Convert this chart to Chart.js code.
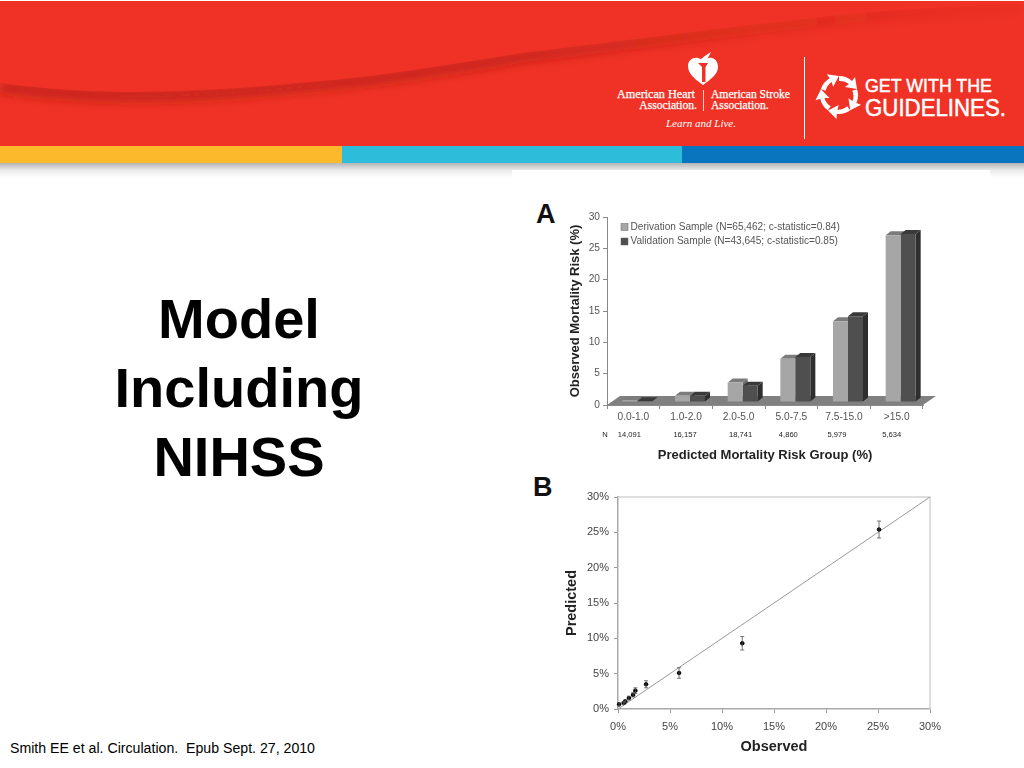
<!DOCTYPE html>
<html>
<head>
<meta charset="utf-8">
<script src="https://cdn.jsdelivr.net/npm/chart.js@4/dist/chart.umd.min.js"></script>
<style>
  html, body { margin: 0; padding: 0; background: #fff; }
  body { width: 1024px; height: 768px; position: relative; overflow: hidden; font-family: "Liberation Sans", Arial, sans-serif; }
  #banner { position: absolute; left: 0; top: 0; }
  .abs { position: absolute; }
  #panel { left: 512px; top: 170px; width: 478px; height: 598px; background: #fff; }
  #title { left: 40px; top: 284px; width: 398px; text-align: center; font-weight: bold; font-size: 56px; line-height: 69px; color: #000; }
  #cite { left: 10px; top: 740px; font-size: 14.15px; color: #000; white-space: pre; }
  .letter { font-weight: bold; font-size: 27px; color: #111; }
  #chartA { left: 520px; top: 190px; }
  #chartB { left: 550px; top: 480px; }
</style>
</head>
<body>
<svg id="banner" width="1024" height="180" viewBox="0 0 1024 180">
  <defs>
    <linearGradient id="shade" x1="0" y1="0" x2="0" y2="1">
      <stop offset="0" stop-color="#b4b4b4"/>
      <stop offset="0.5" stop-color="#ececec"/>
      <stop offset="1" stop-color="#ffffff"/>
    </linearGradient>
    <linearGradient id="foldFade" gradientUnits="userSpaceOnUse" x1="0" y1="0" x2="1024" y2="0">
      <stop offset="0" stop-color="#a81a10" stop-opacity="0.6"/>
      <stop offset="0.5" stop-color="#a81a10" stop-opacity="0.55"/>
      <stop offset="0.75" stop-color="#a81a10" stop-opacity="0.25"/>
      <stop offset="1" stop-color="#a81a10" stop-opacity="0.05"/>
    </linearGradient>
    <filter id="soft" x="-5%" y="-50%" width="110%" height="200%"><feGaussianBlur stdDeviation="5"/></filter>
    <path id="arrowSeg" d="M839 76 A19 19 0 0 1 852 81 L855 77 L857 89 L845 87 L849 84 A14 14 0 0 0 839 81 Z" fill="#fff"/>
  </defs>
  <rect x="0" y="1" width="1024" height="145" fill="#ef3225"/>
  <path d="M0 83 C50 90 100 92 133 92 C180 92 230 89 267 86 C320 81 360 78 400 72 C440 66 480 60 522 53 C600 44 700 30 850 14 C920 8 980 5 1024 4" transform="translate(0 4)" fill="none" stroke="url(#foldFade)" stroke-width="11" filter="url(#soft)"/>
  <path d="M0 83 C50 90 100 92 133 92 C180 92 230 89 267 86 C320 81 360 78 400 72 C440 66 480 60 522 53 C600 44 700 30 850 14 C920 8 980 5 1024 4 L1024 1 L0 1 Z" fill="#ef3225"/>
  <rect x="0" y="146" width="342" height="17" fill="#fdb92c"/>
  <rect x="342" y="146" width="340" height="17" fill="#2dbcd9"/>
  <rect x="682" y="146" width="342" height="17" fill="#0a75bf"/>
  <rect x="0" y="163" width="1024" height="15" fill="url(#shade)"/>
  <!-- logo marks -->
  <path d="M703 85 C695 79 688 74 688 66 C688 60 693 57 698 58 C700 58.5 702 60 703 61 C704 60 707 58 709 58 C714 57 718 61 718 67 C718 74 711 79 703 85 Z" fill="#fff"/>
  <path d="M698 63 H708 L705.5 67 V82 H702 V67 Z" fill="#ef3225"/>
  <path d="M699 61 C702 58 706 55 711 52 C709 56 707 60 705 62 Z" fill="#fff"/>
  <g font-family="Liberation Serif" font-size="11.6" fill="#fff" stroke="#fff" stroke-width="0.25">
    <text x="617" y="98" textLength="78" lengthAdjust="spacingAndGlyphs">American Heart</text>
    <text x="697" y="109" text-anchor="end">Association.</text>
    <text x="711" y="98">American Stroke</text>
    <text x="711" y="109">Association.</text>
  </g>
  <line x1="703.5" y1="90" x2="703.5" y2="111" stroke="#fff" stroke-width="0.8"/>
  <text x="666" y="127" font-family="Liberation Serif" font-style="italic" font-size="11" fill="#fff">Learn and Live.</text>
  <line x1="804.5" y1="57" x2="804.5" y2="139" stroke="#fff" stroke-width="1"/>
  <use href="#arrowSeg"/>
  <use href="#arrowSeg" transform="rotate(72 839 95)"/>
  <use href="#arrowSeg" transform="rotate(144 839 95)"/>
  <use href="#arrowSeg" transform="rotate(216 839 95)"/>
  <use href="#arrowSeg" transform="rotate(288 839 95)"/>
  <text x="865" y="92" font-family="Liberation Sans" font-size="19" fill="#fff" stroke="#fff" stroke-width="0.5" textLength="127" lengthAdjust="spacingAndGlyphs">GET WITH THE</text>
  <text x="865" y="116" font-family="Liberation Sans" font-size="23" fill="#fff" stroke="#fff" stroke-width="0.5" textLength="141" lengthAdjust="spacingAndGlyphs">GUIDELINES.</text>
</svg>

<div id="panel" class="abs"></div>
<div id="title" class="abs">Model<br>Including<br>NIHSS</div>
<div id="cite" class="abs">Smith EE et al. Circulation.  Epub Sept. 27, 2010</div>
<div class="abs letter" style="left:536px;top:199px">A</div>
<div class="abs letter" style="left:533px;top:472px">B</div>
<canvas id="chartA" class="abs" width="430" height="280" style="width:430px;height:280px"></canvas>
<canvas id="chartB" class="abs" width="400" height="285" style="width:400px;height:285px"></canvas>

<script>
// --- DATA ---
const riskGroups = ["0.0-1.0", "1.0-2.0", "2.0-5.0", "5.0-7.5", "7.5-15.0", ">15.0"];
const groupCounts = ["14,091", "16,157", "18,741", "4,860", "5,979", "5,634"];
const derivationRisk = [0.3, 1.0, 3.1, 6.9, 12.9, 26.6];
const validationRisk = [0.1, 1.0, 2.6, 7.2, 13.7, 26.8];
const derivationLabel = "Derivation Sample (N=65,462; c-statistic=0.84)";
const validationLabel = "Validation Sample (N=43,645; c-statistic=0.85)";
const riskTicks = [0, 5, 10, 15, 20, 25, 30];

const observed = [0.1, 0.55, 0.7, 1.05, 1.45, 1.67, 2.7, 5.87, 11.95, 25.1];
const predicted = [0.66, 0.85, 1.08, 1.55, 2.0, 2.6, 3.5, 5.1, 9.3, 25.4];
const predictedErr = [0.2, 0.2, 0.2, 0.25, 0.3, 0.4, 0.5, 0.75, 0.95, 1.2];
const identityLine = [0, 30];
const percentTicks = [0, 5, 10, 15, 20, 25, 30];

const FONT = "'Liberation Sans', Arial, sans-serif";
const TEXT = "#555";
const AXIS = "#8a8a8a";

// --- CHART A: fake 3D column look ---
const DEPTH_X = 5, DEPTH_Y = 4;      // depth of a column
const SHIFT_X = 4, SHIFT_Y = -3;     // columns stand in the middle of the floor
const FLOOR_X = 13, FLOOR_Y = 9;
const sideColors = ["#6e6e6e", "#2e2e2e"];
const topColors = ["#7c7c7c", "#3a3a3a"];
const countNudge = [-4, -1, 2, -3, -7, -5];

function poly(ctx, pts, fill) {
  ctx.beginPath();
  pts.forEach((p, i) => i ? ctx.lineTo(p[0], p[1]) : ctx.moveTo(p[0], p[1]));
  ctx.closePath();
  ctx.fillStyle = fill;
  ctx.fill();
}

const columns3d = {
  id: "columns3d",
  beforeDatasetsDraw(chart) {
    const ctx = chart.ctx, area = chart.chartArea, y0 = chart.scales.y.getPixelForValue(0);
    // floor
    poly(ctx, [[area.left, y0], [area.right, y0], [area.right + FLOOR_X, y0 - FLOOR_Y], [area.left + FLOOR_X, y0 - FLOOR_Y]], "#808080");
    ctx.save();
    ctx.translate(SHIFT_X, SHIFT_Y);
    chart.data.datasets.forEach((ds, i) => {
      chart.getDatasetMeta(i).data.forEach(bar => {
        const l = bar.x - bar.width / 2, r = bar.x + bar.width / 2;
        poly(ctx, [[r, bar.y], [r + DEPTH_X, bar.y - DEPTH_Y], [r + DEPTH_X, bar.base - DEPTH_Y], [r, bar.base]], sideColors[i]);
        poly(ctx, [[l, bar.y], [r, bar.y], [r + DEPTH_X, bar.y - DEPTH_Y], [l + DEPTH_X, bar.y - DEPTH_Y]], topColors[i]);
      });
    });
  },
  afterDatasetsDraw(chart) {
    chart.ctx.restore();
  },
  afterDraw(chart) {
    const ctx = chart.ctx, xs = chart.scales.x;
    ctx.save();
    // N row under the tick labels
    ctx.fillStyle = "#222";
    ctx.font = "7.6px " + FONT;
    ctx.textBaseline = "middle";
    ctx.textAlign = "center";
    ctx.fillText("N", 85, 245);
    groupCounts.forEach((c, i) => ctx.fillText(c, xs.getPixelForValue(i) + countNudge[i], 245));
    // legend inside the plot
    ctx.font = "10.1px " + FONT;
    ctx.textAlign = "left";
    chart.data.datasets.forEach((ds, i) => {
      const y = 37 + i * 14.5;
      ctx.fillStyle = ds.backgroundColor;
      ctx.strokeStyle = "#666";
      ctx.lineWidth = 0.5;
      ctx.fillRect(101, y - 3.5, 7, 7);
      ctx.strokeRect(101, y - 3.5, 7, 7);
      ctx.fillStyle = TEXT;
      ctx.fillText(ds.label, 110.5, y);
    });
    ctx.restore();
  }
};

new Chart(document.getElementById("chartA"), {
  type: "bar",
  data: {
    labels: riskGroups,
    datasets: [
      { label: derivationLabel, data: derivationRisk, backgroundColor: "#a6a6a6", categoryPercentage: 0.57, barPercentage: 1, clip: false },
      { label: validationLabel, data: validationRisk, backgroundColor: "#4f4f4f", categoryPercentage: 0.57, barPercentage: 1, clip: false }
    ]
  },
  options: {
    responsive: false,
    animation: false,
    devicePixelRatio: 1,
    layout: { padding: { left: 48, top: 27, right: 27, bottom: 0 } },
    plugins: { legend: { display: false }, tooltip: { enabled: false } },
    scales: {
      x: {
        afterFit: s => { s.height = 65; },
        border: { color: AXIS },
        grid: { drawOnChartArea: false, color: AXIS, tickLength: 4 },
        ticks: { color: TEXT, font: { family: FONT, size: 10.2 }, padding: 2, maxRotation: 0 },
        title: { display: true, text: "Predicted Mortality Risk Group (%)", color: "#222", font: { family: FONT, size: 13, weight: "bold" }, padding: { bottom: 7 } }
      },
      y: {
        min: 0, max: 30,
        afterFit: s => { s.width = 39; },
        afterBuildTicks: s => { s.ticks = riskTicks.map(v => ({ value: v })); },
        border: { color: AXIS },
        grid: { drawOnChartArea: false, color: AXIS, tickLength: 4 },
        ticks: { color: TEXT, font: { family: FONT, size: 10.2 }, padding: 3 },
        title: { display: true, text: "Observed Mortality Risk (%)", color: "#222", font: { family: FONT, size: 13, weight: "bold" }, padding: 0 }
      }
    }
  },
  plugins: [columns3d]
});

// --- CHART B: calibration scatter ---
const errorBars = {
  id: "errorBars",
  afterDatasetsDraw(chart) {
    const ctx = chart.ctx, xs = chart.scales.x, ys = chart.scales.y;
    ctx.save();
    ctx.strokeStyle = "#555";
    ctx.lineWidth = 0.8;
    observed.forEach((o, i) => {
      const x = xs.getPixelForValue(o);
      const hi = ys.getPixelForValue(predicted[i] + predictedErr[i]);
      const lo = ys.getPixelForValue(predicted[i] - predictedErr[i]);
      ctx.beginPath();
      ctx.moveTo(x, hi); ctx.lineTo(x, lo);
      ctx.moveTo(x - 2, hi); ctx.lineTo(x + 2, hi);
      ctx.moveTo(x - 2, lo); ctx.lineTo(x + 2, lo);
      ctx.stroke();
    });
    ctx.restore();
  }
};

const pct = v => v + "%";
const frameScale = {
  type: "linear", min: 0, max: 30,
  border: { color: "#aaa", width: 1.5 },
  grid: { drawOnChartArea: false, color: "#999", tickLength: 4 }
};

new Chart(document.getElementById("chartB"), {
  type: "scatter",
  data: {
    datasets: [
      { data: observed.map((o, i) => ({ x: o, y: predicted[i] })), backgroundColor: "#000", borderColor: "#000", pointRadius: 1.8, clip: false },
      { type: "line", data: identityLine.map(v => ({ x: v, y: v })), borderColor: "#9a9a9a", borderWidth: 1, pointRadius: 0, fill: false }
    ]
  },
  options: {
    responsive: false,
    animation: false,
    devicePixelRatio: 1,
    layout: { padding: { left: 13, top: 17, right: 20, bottom: 0 } },
    plugins: { legend: { display: false }, tooltip: { enabled: false } },
    scales: {
      x: {
        ...frameScale,
        afterFit: s => { s.height = 56; },
        afterBuildTicks: s => { s.ticks = percentTicks.map(v => ({ value: v })); },
        ticks: { color: "#444", font: { family: FONT, size: 11 }, padding: 7, callback: pct, maxRotation: 0 },
        title: { display: true, text: "Observed", color: "#222", font: { family: FONT, size: 14.5, weight: "bold" }, padding: { bottom: 9 } }
      },
      y: {
        ...frameScale,
        afterFit: s => { s.width = 55; },
        afterBuildTicks: s => { s.ticks = percentTicks.map(v => ({ value: v })); },
        ticks: { color: "#444", font: { family: FONT, size: 11 }, padding: 5, callback: pct },
        title: { display: true, text: "Predicted", color: "#222", font: { family: FONT, size: 14.5, weight: "bold" }, padding: 0 }
      }
    }
  },
  plugins: [errorBars, {
    id: "frame",
    beforeDatasetsDraw(chart) {
      const ctx = chart.ctx, a = chart.chartArea;
      ctx.save();
      ctx.strokeStyle = "#d4d4d4";
      ctx.lineWidth = 1.5;
      ctx.beginPath();
      ctx.moveTo(a.left, a.top); ctx.lineTo(a.right, a.top); ctx.lineTo(a.right, a.bottom);
      ctx.stroke();
      ctx.restore();
    }
  }]
});
</script>
</body>
</html>
